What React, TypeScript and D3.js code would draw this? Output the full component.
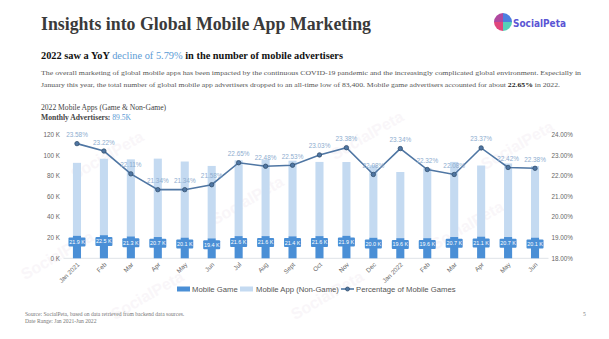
import React from "react";
import * as d3 from "d3";

const months = ["Jan 2021", "Feb", "Mar", "Apr", "May", "Jun", "Jul", "Aug", "Sept", "Oct", "Nov", "Dec", "Jan 2022", "Feb", "Mar", "Apr", "May", "Jun"];
const gameK = [21.9, 22.5, 21.3, 20.7, 20.1, 19.4, 21.6, 21.6, 21.4, 21.6, 21.9, 20.0, 19.6, 19.6, 20.7, 21.1, 20.7, 20.1];
const nonGameK = [71.0, 74.4, 75.0, 76.3, 74.1, 70.5, 73.8, 74.5, 73.6, 72.2, 71.8, 70.6, 64.4, 68.2, 73.1, 69.2, 71.6, 69.7];
const gamePct = [23.58, 23.22, 22.11, 21.34, 21.34, 21.58, 22.65, 22.48, 22.53, 23.03, 23.38, 22.08, 23.34, 22.32, 22.08, 23.37, 22.42, 22.38];
const leftTicks = [0, 20, 40, 60, 80, 100, 120];
const rightTicks = [18, 19, 20, 21, 22, 23, 24];
const legendItems = ["Mobile Game", "Mobile App (Non-Game)", "Percentage of Mobile Games"];

const DARK = "#4a8fd6";
const LIGHT = "#c4daf1";
const LINE = "#4f76a3";
const SERIF = "'Liberation Serif', 'Times New Roman', serif";
const SANS = "'Liberation Sans', Arial, sans-serif";

export default function App() {
  const idx = months.map((_, i) => i);
  const x = d3.scaleBand<number>().domain(idx).range([63.5, 548.5]).paddingInner(0.7).paddingOuter(0.35);
  const yL = d3.scaleLinear().domain([0, 120]).range([258.3, 135]);
  const yR = d3.scaleLinear().domain([18, 24]).range([258.3, 135]);
  const bw = x.bandwidth();
  const cx = (i: number) => (x(i) as number) + bw / 2;
  const line = d3.line<number>().x((_, i) => cx(i)).y((d) => yR(d));

  const wm = [
    [110, 160], [250, 205], [370, 140], [470, 230], [150, 300], [330, 300], [520, 150], [60, 260]
  ];

  return (
    <svg width={609} height={339} style={{ position: "absolute", left: 0, top: 0, background: "#fff" }}>
      {/* watermarks */}
      {wm.map(([a, b], i) => (
        <text key={"wm" + i} x={a} y={b} transform={`rotate(-30 ${a} ${b})`} fontFamily={SANS} fontSize={16} fontWeight="bold" fill="#d9c6d8" opacity={0.15} textAnchor="middle">SocialPeta</text>
      ))}

      {/* header */}
      <text x={41} y={30} fontFamily={SERIF} fontWeight="bold" fontSize={18} fill="#3a3a3a" textLength={330} lengthAdjust="spacingAndGlyphs">Insights into Global Mobile App Marketing</text>
      <g transform="translate(503,22)">
        <path d="M0,0 L0,-9 A9,9 0 0,0 -9,0 Z" fill="#b0489f" />
        <path d="M0,0 L9,0 A9,9 0 0,0 0,-9 Z" fill="#4b7fe0" />
        <path d="M0,0 L-9,0 A9,9 0 0,0 0,9 Z" fill="#e0467c" />
        <path d="M0,0 L0,9 A9,9 0 0,0 9,0 Z" fill="#56d0b8" />
      </g>
      <text x={513} y={26.5} fontFamily="'DejaVu Sans', sans-serif" fontWeight="bold" fontSize={10.5} fill="#5a55d4" textLength={53} lengthAdjust="spacingAndGlyphs">SocialPeta</text>

      <text x={41} y={58.5} fontFamily={SERIF} fontSize={10.5} fill="#111" textLength={302} lengthAdjust="spacingAndGlyphs">
        <tspan fontWeight="bold">2022 saw a YoY </tspan>
        <tspan fill="#5b9bd5">decline of 5.79%</tspan>
        <tspan fontWeight="bold"> in the number of mobile advertisers</tspan>
      </text>
      <text x={41} y={74.5} fontFamily={SERIF} fontSize={7} fill="#555" textLength={540} lengthAdjust="spacingAndGlyphs">The overall marketing of global mobile apps has been impacted by the continuous COVID-19 pandemic and the increasingly complicated global environment. Especially in</text>
      <text x={41} y={86.5} fontFamily={SERIF} fontSize={7} fill="#555" textLength={519} lengthAdjust="spacingAndGlyphs">
        <tspan>January this year, the total number of global mobile app advertisers dropped to an all-time low of 83,400. Mobile game advertisers accounted for about </tspan>
        <tspan fontWeight="bold" fill="#222">22.65%</tspan>
        <tspan> in 2022.</tspan>
      </text>
      <text x={41} y={110} fontFamily={SERIF} fontSize={7.6} fill="#444">2022 Mobile Apps (Game &amp; Non-Game)</text>
      <text x={41} y={119.5} fontFamily={SERIF} fontSize={7.6} fill="#444" fontWeight="bold">
        <tspan>Monthly Advertisers: </tspan>
        <tspan fill="#5b9bd5" fontWeight="normal">89.5K</tspan>
      </text>

      {/* axes labels */}
      {leftTicks.map((t) => (
        <text key={"l" + t} x={60} y={yL(t)} dy="0.35em" textAnchor="end" fontFamily={SANS} fontSize={6.3} fill="#666">{t} K</text>
      ))}
      {rightTicks.map((t) => (
        <text key={"r" + t} x={551.5} y={yR(t)} dy="0.35em" textAnchor="start" fontFamily={SANS} fontSize={6.3} fill="#666">{t.toFixed(2)}%</text>
      ))}
      <line x1={63.5} x2={548.5} y1={yL(0)} y2={yL(0)} stroke="#dfe3e8" strokeWidth={1} />

      {/* bars */}
      {idx.map((i) => (
        <g key={"b" + i}>
          <rect x={x(i)} width={bw} y={yL(gameK[i] + nonGameK[i])} height={yL(gameK[i]) - yL(gameK[i] + nonGameK[i])} fill={LIGHT} />
          <rect x={x(i)} width={bw} y={yL(gameK[i])} height={yL(0) - yL(gameK[i])} fill={DARK} />
          <rect x={cx(i) - 8.5} y={yL(gameK[i]) + 1.8} width={17} height={9} rx={1} fill={DARK} />
          <text x={cx(i)} y={yL(gameK[i]) + 6.3} dy="0.35em" textAnchor="middle" fontFamily={SANS} fontSize={5.4} fill="#fff">{gameK[i].toFixed(1)} K</text>
        </g>
      ))}

      {/* line */}
      <path d={line(gamePct) || ""} fill="none" stroke={LINE} strokeWidth={1.6} />
      {gamePct.map((p, i) => (
        <g key={"p" + i}>
          <circle cx={cx(i)} cy={yR(p)} r={2.2} fill={LINE} stroke="#34506f" strokeWidth={0.8} />
          <text x={cx(i)} y={yR(p) - 6.5} textAnchor="middle" fontFamily={SANS} fontSize={6.4} fill="#8eadcf">{p.toFixed(2)}%</text>
        </g>
      ))}

      {/* x labels */}
      {idx.map((i) => (
        <text key={"x" + i} x={cx(i) + 3} y={265} transform={`rotate(-45 ${cx(i) + 3} ${265})`} textAnchor="end" fontFamily={SANS} fontSize={6.3} fill="#666">{months[i]}</text>
      ))}

      {/* legend */}
      <g fontFamily={SANS} fontSize={7.7} fill="#555">
        <rect x={177} y={286.5} width={13} height={5} fill={DARK} />
        <text x={192} y={289} dy="0.35em">{legendItems[0]}</text>
        <rect x={240} y={286.5} width={13} height={5} fill={LIGHT} />
        <text x={256} y={289} dy="0.35em">{legendItems[1]}</text>
        <line x1={341} x2={354} y1={289} y2={289} stroke={LINE} strokeWidth={1.6} />
        <circle cx={347.5} cy={289} r={2} fill={LINE} stroke="#34506f" strokeWidth={0.8} />
        <text x={356} y={289} dy="0.35em">{legendItems[2]}</text>
      </g>

      {/* footer */}
      <text x={25} y={315.5} fontFamily={SERIF} fontSize={5.6} fill="#777">Source: SocialPeta, based on data retrieved from backend data sources.</text>
      <text x={25} y={322.5} fontFamily={SERIF} fontSize={5.6} fill="#777">Date Range: Jan 2021-Jun 2022</text>
      <text x={583} y={315.5} fontFamily={SERIF} fontSize={5.6} fill="#777">5</text>
    </svg>
  );
}
